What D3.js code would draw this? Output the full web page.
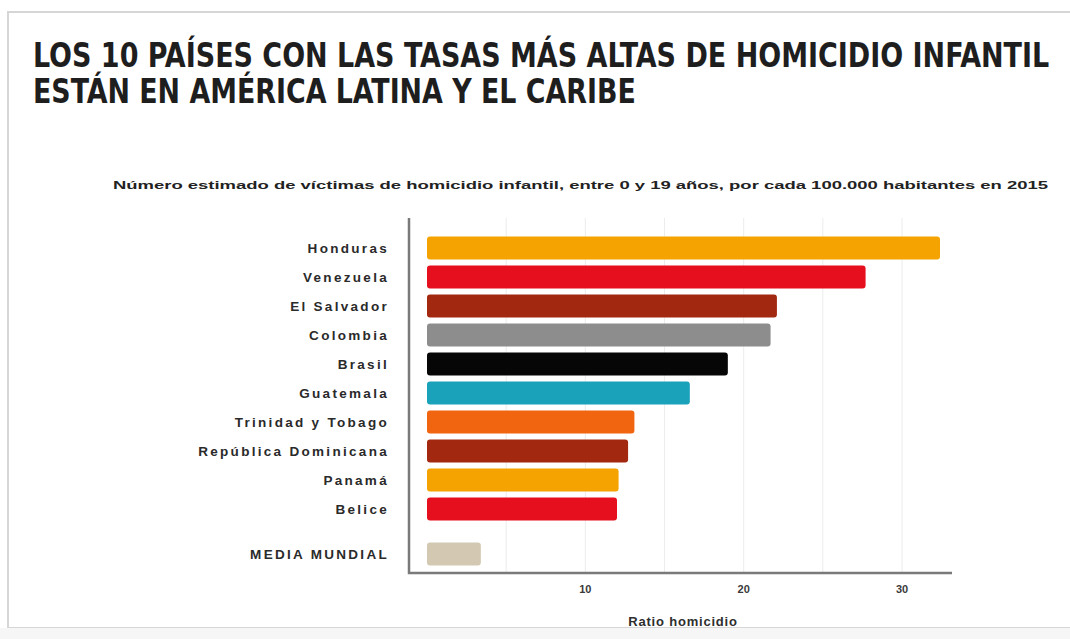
<!DOCTYPE html>
<html>
<head>
<meta charset="utf-8">
<script src="https://cdn.jsdelivr.net/npm/d3@7"></script>
<style>
  body { margin: 0; background: #fff; }
  text { font-family: "Liberation Sans", Arial, sans-serif; }
</style>
</head>
<body>
<svg id="chart" width="1070" height="639"></svg>
<script>
const countries = ["Honduras", "Venezuela", "El Salvador", "Colombia", "Brasil", "Guatemala",
  "Trinidad y Tobago", "República Dominicana", "Panamá", "Belice"];
const rates = [32.4, 27.7, 22.1, 21.7, 19.0, 16.6, 13.1, 12.7, 12.1, 12.0];
const barColors = ["#f4a300", "#e60f1e", "#a2280f", "#8d8d8d", "#060606", "#1aa2bb",
  "#f26510", "#a2280f", "#f4a300", "#e60f1e"];
const worldLabel = "MEDIA MUNDIAL";
const worldRate = 3.4;
const worldColor = "#d3c9b3";
const xTicks = [10, 20, 30];
const gridValues = [5, 10, 15, 20, 25, 30];
const titleLines = ["LOS 10 PAÍSES CON LAS TASAS MÁS ALTAS DE HOMICIDIO INFANTIL",
  "ESTÁN EN AMÉRICA LATINA Y EL CARIBE"];
const subtitle = "Número estimado de víctimas de homicidio infantil, entre 0 y 19 años, por cada 100.000 habitantes en 2015";
const xTitle = "Ratio homicidio";

const svg = d3.select("#chart");

// frame of the screenshot
svg.append("rect")
  .attr("x", 8).attr("y", 12).attr("width", 1080).attr("height", 616)
  .attr("fill", "none").attr("stroke", "#d6d6d6").attr("stroke-width", 2);
svg.append("rect")
  .attr("x", 0).attr("y", 628).attr("width", 1070).attr("height", 11)
  .attr("fill", "#f6f6f6");

// title, squeezed horizontally to the width of the original
const titleWidths = [1017, 603];
svg.selectAll(".title")
  .data(titleLines)
  .join("text")
  .attr("class", "title")
  .style("font-family", "'DejaVu Sans Condensed', 'Liberation Sans Narrow', sans-serif")
  .style("font-weight", "bold")
  .style("font-size", "33px")
  .attr("fill", "#1e1e1e")
  .text(d => d)
  .attr("transform", function(d, i) {
    const s = titleWidths[i] / this.getComputedTextLength();
    return `translate(33,${67 + i * 36}) scale(${s},1)`;
  });

svg.append("text")
  .attr("x", 113).attr("y", 189)
  .attr("textLength", 935)
  .attr("lengthAdjust", "spacingAndGlyphs")
  .style("font-weight", "bold")
  .style("font-size", "11.5px")
  .attr("fill", "#222")
  .text(subtitle);

const x = d3.scaleLinear().domain([0, 30]).range([427, 902]);
const y = d3.scaleLinear().domain([0, 9]).range([248, 509]);
const worldRow = 10.55;
const barH = 23;
const axisTop = 218, axisBottom = 573, axisLeft = 409, axisRight = 952;

// gridlines
svg.append("g")
  .selectAll("line")
  .data(gridValues)
  .join("line")
  .attr("x1", d => x(d)).attr("x2", d => x(d))
  .attr("y1", axisTop).attr("y2", axisBottom)
  .attr("stroke", "#ececec").attr("stroke-width", 1);

// bars
svg.append("g")
  .selectAll("rect")
  .data(countries)
  .join("rect")
  .attr("x", x(0))
  .attr("y", (d, i) => y(i) - barH / 2)
  .attr("width", (d, i) => x(rates[i]) - x(0))
  .attr("height", barH)
  .attr("rx", 3)
  .attr("fill", (d, i) => barColors[i]);

svg.append("rect")
  .attr("x", x(0))
  .attr("y", y(worldRow) - barH / 2)
  .attr("width", x(worldRate) - x(0))
  .attr("height", barH)
  .attr("rx", 3)
  .attr("fill", worldColor);

// category labels
const labelStyle = sel => sel
  .attr("x", 389)
  .attr("dy", "0.36em")
  .attr("text-anchor", "end")
  .style("font-weight", "bold")
  .style("font-size", "13.5px")
  .style("letter-spacing", "2.3px")
  .attr("fill", "#2a2a2a");

svg.append("g")
  .selectAll("text")
  .data(countries)
  .join("text")
  .call(labelStyle)
  .attr("y", (d, i) => y(i))
  .text(d => d);

svg.append("text")
  .call(labelStyle)
  .attr("y", y(worldRow))
  .text(worldLabel);

// axes
svg.append("path")
  .attr("d", `M${axisLeft},${axisTop}V${axisBottom}H${axisRight}`)
  .attr("fill", "none")
  .attr("stroke", "#7a7a7a")
  .attr("stroke-width", 2.5);

svg.append("g")
  .selectAll("text")
  .data(xTicks)
  .join("text")
  .attr("x", d => x(d))
  .attr("y", 593)
  .attr("text-anchor", "middle")
  .style("font-weight", "bold")
  .style("font-size", "11px")
  .attr("fill", "#3a3a3a")
  .text(d => d);

svg.append("text")
  .attr("x", 683)
  .attr("y", 626)
  .attr("text-anchor", "middle")
  .style("font-weight", "bold")
  .style("font-size", "13px")
  .style("letter-spacing", "0.8px")
  .attr("fill", "#2e2e2e")
  .text(xTitle);
</script>
</body>
</html>
